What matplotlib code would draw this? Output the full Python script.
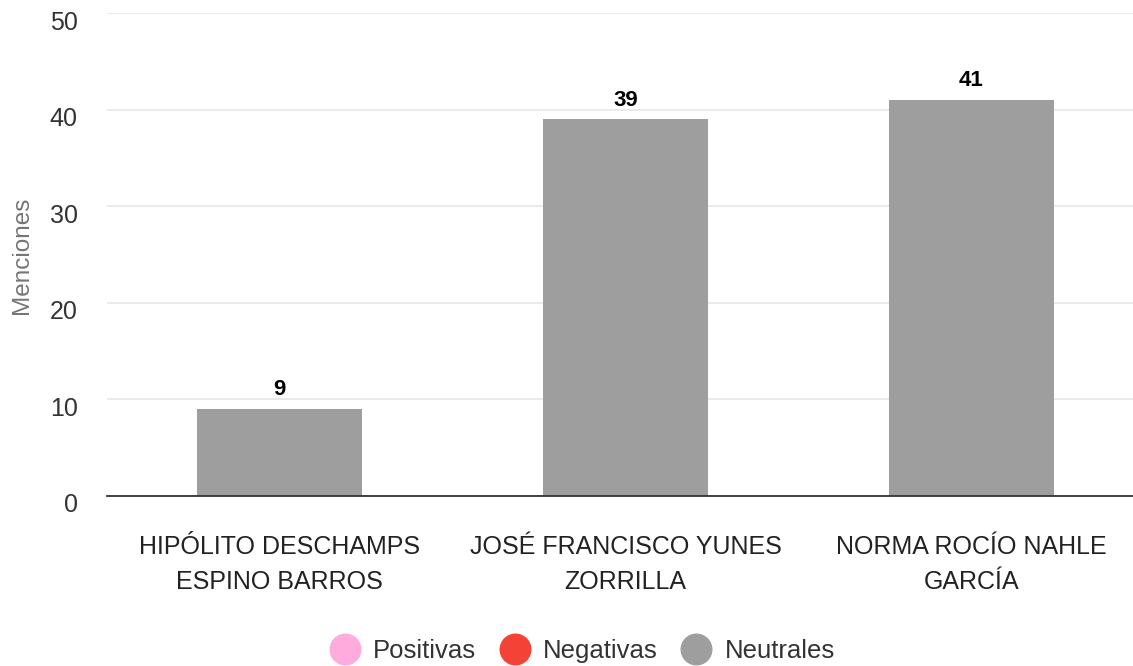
import matplotlib.pyplot as plt
from matplotlib.lines import Line2D
from matplotlib.transforms import ScaledTranslation

# data
categories = ["HIPÓLITO DESCHAMPS\nESPINO BARROS",
              "JOSÉ FRANCISCO YUNES\nZORRILLA",
              "NORMA ROCÍO NAHLE\nGARCÍA"]
neutrales = [9, 39, 41]
legend_labels = ["Positivas", "Negativas", "Neutrales"]
legend_colors = ["#FFABDD", "#F44336", "#9E9E9E"]
y_ticks = [0, 10, 20, 30, 40, 50]

plt.rcParams["font.family"] = ["Liberation Sans", "DejaVu Sans"]

fig = plt.figure(figsize=(11.33, 6.66), dpi=100)
ax = fig.add_axes([107 / 1133, 170 / 666, 1037 / 1133, 483 / 666])

x = range(len(categories))
bars = ax.bar(x, neutrales, width=0.477, color="#9E9E9E", zorder=3)

for rect, v in zip(bars, neutrales):
    ax.text(rect.get_x() + rect.get_width() / 2, v + 0.9, str(v),
            ha="center", va="bottom", fontsize=16, fontweight="bold", color="#000000")

ax.set_xlim(-0.5, 2.5)
ax.set_ylim(0, 50)
ax.set_yticks(y_ticks)
ax.set_xticks(list(x))
ax.set_xticklabels(categories, fontsize=18, color="#222222", linespacing=1.6)
ax.tick_params(axis="y", labelsize=18, labelcolor="#333333", length=0, pad=21)
ax.tick_params(axis="x", length=0, pad=28)

# y tick labels sit slightly below their gridlines
shift = ScaledTranslation(0, -7 / 100, fig.dpi_scale_trans)
for lbl in ax.get_yticklabels():
    lbl.set_transform(lbl.get_transform() + shift)

ax.grid(axis="y", color="#E6E6E6", linewidth=1.2, zorder=0)
for s in ["top", "right", "left"]:
    ax.spines[s].set_visible(False)
ax.spines["bottom"].set_color("#333333")
ax.spines["bottom"].set_linewidth(1.3)
ax.spines["bottom"].set_zorder(4)

fig.text(22 / 1133, 1 - 255 / 666, "Menciones", rotation=90, ha="center", va="center",
         fontsize=17.5, color="#757575")

handles = [Line2D([0], [0], marker="o", linestyle="none", markersize=22,
                  markerfacecolor=c, markeredgecolor=c) for c in legend_colors]
fig.legend(handles, legend_labels, loc="center", bbox_to_anchor=(577 / 1133, 1 - 651 / 666),
           ncol=3, frameon=False, fontsize=18.5, handletextpad=0.1, columnspacing=0.5,
           labelcolor="#333333")

fig.savefig("out.png", dpi=100)
